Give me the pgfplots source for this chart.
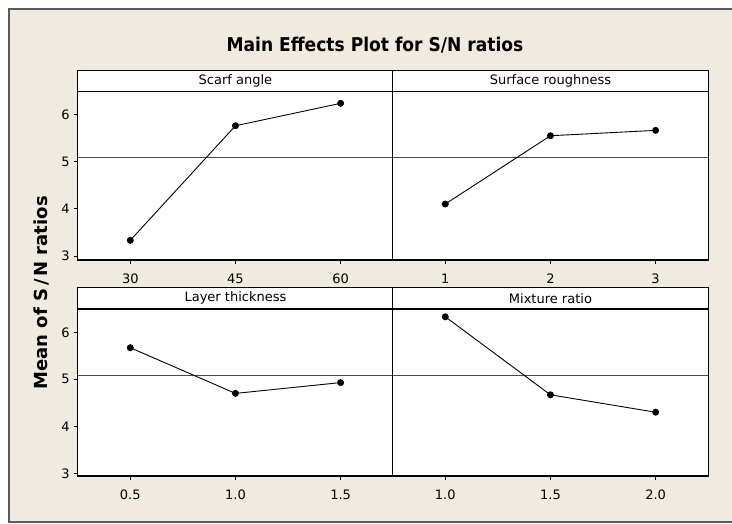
\documentclass[border=0pt]{standalone}
\usepackage{pgfplots}
\pgfplotsset{compat=1.18}
\usepackage{fontspec}
\setmainfont{DejaVu Sans}
\definecolor{beige}{RGB}{239,235,224}
\definecolor{framegray}{RGB}{90,90,90}
\definecolor{meangray}{RGB}{75,75,75}
\pgfplotsset{
  panel/.style={
    scale only axis, width=315.5pt,
    ymax=6.489,
    axis line style={black, line width=1.1pt},
    axis background/.style={fill=white},
    tick align=outside, xtick pos=bottom, ytick pos=left,
    major tick length=3.5pt,
    tick style={black, line width=0.9pt},
    ytick={3,4,5,6},
    /pgf/number format/assume math mode=true,
    tick label style={font=\fontsize{13}{15}\selectfont, text=black},
    xticklabel style={yshift=-6.5pt},
    yticklabel style={xshift=-1pt},
    clip=false,
    every axis title/.style={at={(0.5,1)}, anchor=south, draw=black, line width=1.1pt,
      fill=white, minimum width=315.5pt, minimum height=21pt, inner sep=0pt,
      font=\fontsize{13}{15}\selectfont},
  },
  noy/.style={ytick=\empty},
  dataline/.style={black, line width=0.9pt, mark=*, mark size=3pt, mark options={solid, fill=black}},
  meanline/.style={meangray, line width=1.1pt, no marks, forget plot},
}
\begin{document}
\begin{tikzpicture}
\fill[white] (0pt,0pt) rectangle (732pt,-523pt);
\fill[beige] (9pt,-9pt) rectangle (733pt,-521.7pt);
\draw[framegray, line width=2pt] (734pt,-9pt) -- (9pt,-9pt) -- (9pt,-521.7pt) -- (734pt,-521.7pt);
\node[font=\bfseries\fontsize{19}{21}\selectfont] at (375pt,-45pt) {\scalebox{0.9}[1]{Main Effects Plot for S/N ratios}};
\node[font=\bfseries\fontsize{18}{20}\selectfont, rotate=90] at (41.7pt,-292.9pt) {Mean of S\,/\,N ratios};

% Top-left
\begin{axis}[panel, at={(77.7pt,-260pt)}, anchor=south west, height=168.3pt,
  xmin=22.5, xmax=67.5, ymin=2.915, xtick={30,45,60}, title={Scarf angle}]
\addplot[meanline] coordinates {(22.5,5.09) (67.5,5.09)};
\addplot[dataline] coordinates {(30,3.333) (45,5.766) (60,6.242)};
\end{axis}
% Top-right
\begin{axis}[panel, noy, at={(392.7pt,-260pt)}, anchor=south west, height=168.3pt,
  xmin=0.5, xmax=3.5, ymin=2.915, xtick={1,2,3}, title={Surface roughness}]
\addplot[meanline] coordinates {(0.5,5.09) (3.5,5.09)};
\addplot[dataline] coordinates {(1,4.104) (2,5.554) (3,5.668)};
\end{axis}
% Bottom-left
\begin{axis}[panel, at={(77.7pt,-476pt)}, anchor=south west, height=166.7pt,
  xmin=0.25, xmax=1.75, ymin=2.943, xtick={0.5,1,1.5}, xticklabels={0.5,1.0,1.5},
  title={Layer thickness}]
\addplot[meanline] coordinates {(0.25,5.09) (1.75,5.09)};
\addplot[dataline] coordinates {(0.5,5.672) (1.0,4.70) (1.5,4.93)};
\end{axis}
% Bottom-right
\begin{axis}[panel, noy, at={(392.7pt,-476pt)}, anchor=south west, height=166.7pt,
  xmin=0.75, xmax=2.25, ymin=2.943, xtick={1,1.5,2}, xticklabels={1.0,1.5,2.0},
  title={Mixture ratio}]
\addplot[meanline] coordinates {(0.75,5.09) (2.25,5.09)};
\addplot[dataline] coordinates {(1.0,6.33) (1.5,4.67) (2.0,4.30)};
\end{axis}
\pgfresetboundingbox
\path[use as bounding box] (0pt,0pt) rectangle (732pt,-523pt);
\end{tikzpicture}
\end{document}
